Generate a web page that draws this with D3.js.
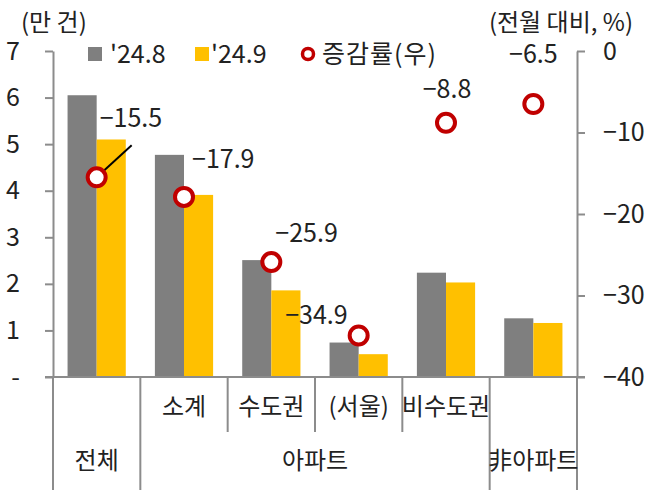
<!DOCTYPE html>
<meta charset="utf-8">
<style>
body { margin: 0; background: #fff; }
svg text { font-family: "Noto Sans CJK KR", "Noto Sans", sans-serif; fill: #222; }
.axis path, .axis line { stroke: #8c8c8c; stroke-width: 2px; fill: none; }
.axis text { font-size: 25px; }
</style>
<body>
<svg width="650" height="492"></svg>
<script src="https://cdn.jsdelivr.net/npm/d3@7/dist/d3.min.js"></script>
<script>

var categories = ["전체", "소계", "수도권", "(서울)", "비수도권", "非아파트"];
var series = ["'24.8", "'24.9"];
var aug = [6.05, 4.77, 2.51, 0.74, 2.24, 1.26];
var sep = [5.10, 3.91, 1.86, 0.49, 2.03, 1.16];
var change = [-15.5, -17.9, -25.9, -34.9, -8.8, -6.5];
var leftTicks = [0, 1, 2, 3, 4, 5, 6, 7];
var rightTicks = [0, -10, -20, -30, -40];

// label offsets for the change values (dx, dy of baseline from dot, anchor)
var labelPos = [[3, -50, "start"], [8, -29, "start"], [4, -20, "start"], [-11, -11, "end"], [1, -25, "middle"], [0, -41, "middle"]];

var colors = {"'24.8": "#7f7f7f", "'24.9": "#ffc000"};
var red = "#c00000";

var svg = d3.select("svg");
var plotL = 53, plotR = 577, plotT = 51, plotB = 377;

var x0 = d3.scaleBand().domain(categories).range([plotL, plotR]).padding(0);
var x1 = d3.scaleBand().domain(series).range([0, x0.bandwidth()]).paddingInner(0).paddingOuter(0.5);
var yL = d3.scaleLinear().domain([0, 7]).range([plotB, plotT]);
var yR = d3.scaleLinear().domain([-40, 0]).range([plotB, plotT]);

var rows = categories.map(function(c, i) { return {cat: c, vals: [aug[i], sep[i]], chg: change[i]}; });

// bars
var grp = svg.selectAll(".grp").data(rows).enter().append("g")
  .attr("transform", function(d) { return "translate(" + x0(d.cat) + ",0)"; });
grp.selectAll("rect").data(function(d) { return d.vals.map(function(v, j) { return {s: series[j], v: v}; }); })
  .enter().append("rect")
  .attr("x", function(d) { return x1(d.s); })
  .attr("width", x1.bandwidth())
  .attr("y", function(d) { return yL(d.v); })
  .attr("height", function(d) { return plotB - yL(d.v); })
  .attr("fill", function(d) { return colors[d.s]; });

// axes
var fmtL = function(d) { return d === 0 ? "-" : d; };
var fmtR = function(d) { return d === 0 ? "0" : "\u2212" + Math.abs(d); };

svg.append("g").attr("class", "axis")
  .attr("transform", "translate(" + plotL + ",0)")
  .call(d3.axisLeft(yL).tickValues(leftTicks).tickFormat(fmtL).tickSize(8).tickPadding(25).tickSizeOuter(0));

svg.append("g").attr("class", "axis")
  .attr("transform", "translate(" + plotR + ",0)")
  .call(d3.axisRight(yR).tickValues(rightTicks).tickFormat(fmtR).tickSize(8).tickPadding(18).tickSizeOuter(0));

// baseline
svg.append("line").attr("x1", plotL - 8).attr("x2", plotR + 8).attr("y1", plotB).attr("y2", plotB)
  .attr("stroke", "#8c8c8c").attr("stroke-width", 2);

// category dividers
var bounds = categories.map(function(c) { return x0(c); }).concat([plotR]);
bounds.forEach(function(b, i) {
  var full = (i === 0 || i === 1 || i === 5 || i === 6);
  svg.append("line").attr("x1", b).attr("x2", b).attr("y1", plotB).attr("y2", full ? 490 : 432)
    .attr("stroke", "#8c8c8c").attr("stroke-width", 2);
});

// category labels
var row1 = ["소계", "수도권", "(서울)", "비수도권"];
row1.forEach(function(c) {
  svg.append("text").attr("x", x0(c) + x0.bandwidth() / 2).attr("y", 415)
    .attr("text-anchor", "middle").style("font-size", "24px").text(c);
});
svg.append("text").attr("x", x0("전체") + x0.bandwidth() / 2).attr("y", 469)
  .attr("text-anchor", "middle").style("font-size", "24px").text("전체");
svg.append("text").attr("x", (x0("소계") + x0("비수도권") + x0.bandwidth()) / 2).attr("y", 469)
  .attr("text-anchor", "middle").style("font-size", "24px").text("아파트");
svg.append("text").attr("x", x0("非아파트") + x0.bandwidth() / 2).attr("y", 469)
  .attr("text-anchor", "middle").style("font-size", "24px").text("非아파트");

// leader line for first label
var cx0 = x0(categories[0]) + x0.bandwidth() / 2;
svg.append("line").attr("x1", cx0).attr("y1", yR(change[0]))
  .attr("x2", cx0 + 35).attr("y2", yR(change[0]) - 32)
  .attr("stroke", "#000").attr("stroke-width", 2);

// dots
var dots = svg.selectAll(".dot").data(rows).enter().append("g");
dots.append("circle")
  .attr("cx", function(d) { return x0(d.cat) + x0.bandwidth() / 2; })
  .attr("cy", function(d) { return yR(d.chg); })
  .attr("r", 9)
  .attr("fill", "#fff").attr("stroke", red).attr("stroke-width", 4);
dots.append("text")
  .attr("x", function(d, i) { return x0(d.cat) + x0.bandwidth() / 2 + labelPos[i][0]; })
  .attr("y", function(d, i) { return yR(d.chg) + labelPos[i][1]; })
  .attr("text-anchor", function(d, i) { return labelPos[i][2]; })
  .style("font-size", "25px")
  .text(function(d) { return "\u2212" + Math.abs(d.chg).toFixed(1); });

// axis titles
svg.append("text").attr("x", 21).attr("y", 31).style("font-size", "24px").text("(만 건)");
svg.append("text").attr("x", 633).attr("y", 31).attr("text-anchor", "end").style("font-size", "24px").text("(전월 대비, %)");

// legend
var lg = svg.append("g").attr("transform", "translate(88,54)");
lg.append("rect").attr("x", 0).attr("y", -7).attr("width", 14).attr("height", 14).attr("fill", colors[series[0]]);
lg.append("text").attr("x", 22).attr("y", 9).style("font-size", "25px").text(series[0]);
lg.append("rect").attr("x", 107).attr("y", -7).attr("width", 14).attr("height", 14).attr("fill", colors[series[1]]);
lg.append("text").attr("x", 123).attr("y", 9).style("font-size", "25px").text(series[1]);
lg.append("circle").attr("cx", 220).attr("cy", 0).attr("r", 5.5).attr("fill", "#fff").attr("stroke", red).attr("stroke-width", 3.5);
lg.append("text").attr("x", 234).attr("y", 9).style("font-size", "25px").style("letter-spacing", "1px").text("증감률(우)");

</script>
</body>
